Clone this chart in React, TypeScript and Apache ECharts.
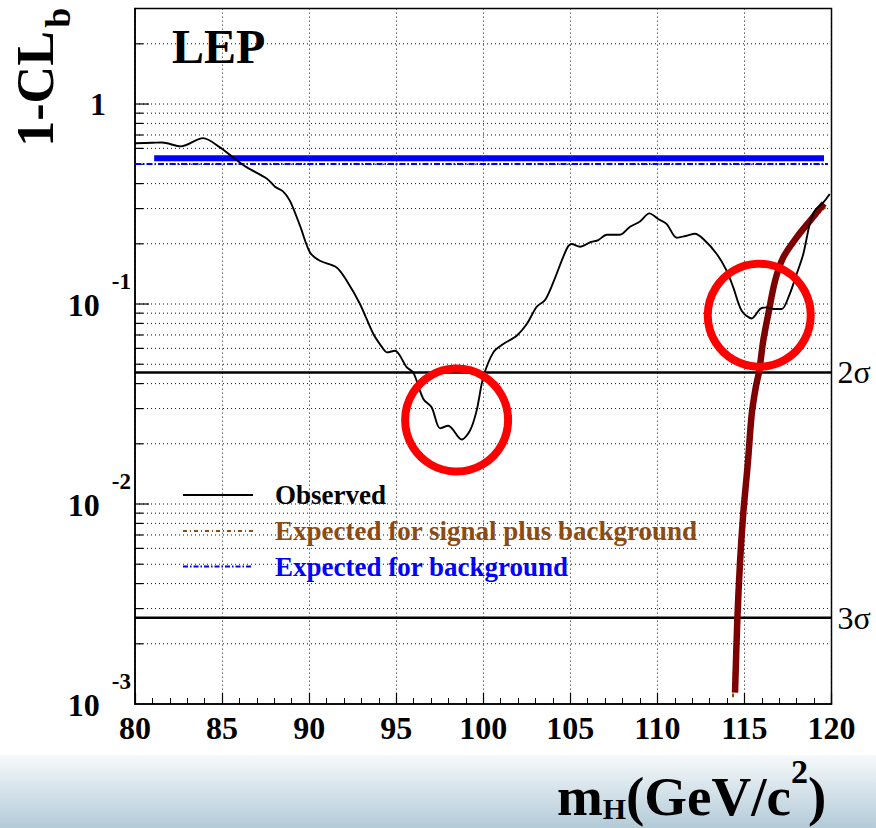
import React, { useEffect, useRef } from "react";
import * as echarts from "echarts";

const FONT = "'Liberation Serif', 'Times New Roman', Times, serif";

// Observed 1-CLb versus Higgs mass
const obsMass = [80.0, 81.0, 81.55, 82.64, 83.91, 84.88, 85.63, 86.43, 87.58, 88.04, 88.5, 88.9, 89.48, 90.05, 90.62, 91.58, 92.16, 92.92, 93.69, 94.26, 94.46, 94.93, 95.61, 95.98, 96.56, 97.04, 97.52, 97.99, 98.76, 99.24, 99.62, 100.0, 100.58, 101.15, 101.92, 102.5, 103.07, 103.55, 104.02, 104.79, 105.08, 105.56, 106.13, 106.61, 107.09, 107.85, 108.43, 109.0, 109.54, 110.05, 110.54, 111.11, 111.68, 112.16, 112.64, 113.41, 113.98, 114.36, 114.84, 115.42, 115.9, 116.28, 116.66, 117.14, 117.6, 118.0, 118.38, 118.75, 119.04, 119.53, 119.9];
const obsClb = [0.637, 0.64, 0.642, 0.614, 0.675, 0.607, 0.541, 0.482, 0.423, 0.386, 0.366, 0.328, 0.246, 0.181, 0.1646, 0.1524, 0.1307, 0.1, 0.0708, 0.0596, 0.0573, 0.0584, 0.0482, 0.0455, 0.0335, 0.0304, 0.0239, 0.0246, 0.021, 0.0233, 0.0293, 0.043, 0.0573, 0.0631, 0.0694, 0.0794, 0.0969, 0.1047, 0.1282, 0.1884, 0.1995, 0.1934, 0.2032, 0.2089, 0.222, 0.222, 0.2434, 0.2585, 0.2838, 0.266, 0.251, 0.2145, 0.2195, 0.2246, 0.2113, 0.1778, 0.1467, 0.121, 0.0926, 0.0847, 0.0944, 0.0962, 0.0944, 0.0944, 0.1122, 0.1413, 0.1778, 0.251, 0.2927, 0.322, 0.355];

// Signal + background (thick dark red)
const sbMass = [114.46, 114.59, 114.74, 114.93, 115.19, 115.42, 115.65, 115.85, 116.08, 116.37, 116.76, 117.23, 118.0, 118.77, 119.57];
const sbClb = [0.00114, 0.00261, 0.00501, 0.00891, 0.01585, 0.0282, 0.0383, 0.0464, 0.0655, 0.0891, 0.1307, 0.171, 0.2153, 0.261, 0.3184];

// Expected for signal plus background (brown dash-dot)
const sbExpMass = [114.34, 114.5, 114.67, 114.88, 115.15, 115.4, 115.63, 115.84, 116.07, 116.36, 116.75, 117.22, 117.99, 118.76, 119.6, 119.7];
const sbExpClb = [0.00108, 0.00261, 0.00501, 0.00891, 0.01585, 0.0282, 0.0383, 0.0464, 0.0655, 0.0891, 0.1307, 0.171, 0.2153, 0.255, 0.302, 0.305];

// Expected for background
const bkgBandMass = [81.1, 119.57];
const bkgBandClb = [0.536, 0.536];
const bkgExpMass = [80.0, 119.8];
const bkgExpClb = [0.501, 0.501];

// Significance levels
const sigmaMass = [80, 120];
const sigmaValues = [0.0455, 0.0027];
const sigmaLabels = ["2σ", "3σ"];

// Highlight circles
const circleMass = [98.47, 115.85];
const circleClb = [0.0263, 0.0879];

// Horizontal grid levels
const gridLevels = [0.002, 0.003, 0.004, 0.005, 0.006, 0.007, 0.008, 0.009, 0.01, 0.02, 0.03, 0.04, 0.05, 0.06, 0.07, 0.08, 0.09, 0.1, 0.2, 0.3, 0.4, 0.5, 0.6, 0.7, 0.8, 0.9, 1, 2];

const legendLabels = ["Observed", "Expected for signal plus background", "Expected for background"];
const legendColors = ["#000000", "#8b4c13", "#0000ff"];

const zip = (a: number[], b: number[]) => a.map((v, i) => [v, b[i]]);

export default function App() {
  const ref = useRef<HTMLDivElement>(null);
  useEffect(() => {
    if (!ref.current) return;
    const chart = echarts.init(ref.current, undefined, { renderer: "svg" });
    const legendY = [495, 531, 566.5];
    const legendDash: (number[] | null)[] = [null, [4, 3, 1, 3], [5, 2, 1.5, 2]];
    const graphic: any[] = [
      {
        type: "rect",
        z: -10,
        shape: { x: 0, y: 755, width: 876, height: 73 },
        style: {
          fill: new echarts.graphic.LinearGradient(0, 0, 0, 1, [
            { offset: 0, color: "#f6f9fb" },
            { offset: 1, color: "#b3cbd8" },
          ]),
        },
      },
      {
        type: "text",
        x: 172,
        y: 46.7,
        z: 20,
        style: { text: "LEP", fontFamily: FONT, fontWeight: "bold", fontSize: 48, fill: "#000", verticalAlign: "middle", align: "left" },
      },
      {
        type: "group",
        x: 35.5,
        y: 146.7,
        rotation: Math.PI / 2,
        z: 20,
        children: [
          { type: "text", x: 0, y: 0, style: { text: "1-CL", fontFamily: FONT, fontWeight: "bold", fontSize: 52, fill: "#000", verticalAlign: "middle", align: "left" } },
          { type: "text", x: 119, y: 22.5, style: { text: "b", fontFamily: FONT, fontWeight: "bold", fontSize: 36, fill: "#000", verticalAlign: "middle", align: "left" } },
        ],
      },
      { type: "text", x: 557, y: 796.4, z: 20, style: { text: "m", fontFamily: FONT, fontWeight: "bold", fontSize: 55, fill: "#000", verticalAlign: "middle", align: "left" } },
      { type: "text", x: 602.8, y: 808, z: 20, style: { text: "H", fontFamily: FONT, fontWeight: "bold", fontSize: 30, fill: "#000", verticalAlign: "middle", align: "left" } },
      { type: "text", x: 626, y: 796.4, z: 20, style: { text: "(GeV/c", fontFamily: FONT, fontWeight: "bold", fontSize: 55, fill: "#000", verticalAlign: "middle", align: "left" } },
      { type: "text", x: 791, y: 771.5, z: 20, style: { text: "2", fontFamily: FONT, fontWeight: "bold", fontSize: 34, fill: "#000", verticalAlign: "middle", align: "left" } },
      { type: "text", x: 808, y: 796.4, z: 20, style: { text: ")", fontFamily: FONT, fontWeight: "bold", fontSize: 55, fill: "#000", verticalAlign: "middle", align: "left" } },
    ];
    legendLabels.forEach((label, i) => {
      graphic.push({
        type: "line",
        z: 20,
        shape: { x1: 183, y1: legendY[i], x2: 253, y2: legendY[i] },
        style: { stroke: legendColors[i], lineWidth: 2, lineDash: legendDash[i] || undefined },
      });
      graphic.push({
        type: "text",
        x: 275,
        y: legendY[i],
        z: 20,
        style: { text: label, fontFamily: FONT, fontWeight: "bold", fontSize: 27, fill: legendColors[i], verticalAlign: "middle", align: "left" },
      });
    });

    const sigmaSeries = sigmaValues.map((v, i) => ({
      type: "line",
      name: sigmaLabels[i],
      z: 3,
      symbol: "none",
      silent: true,
      clip: false,
      data: sigmaMass.map((m) => [m, v]),
      lineStyle: { color: "#000", width: 2.5 },
      endLabel: { show: true, formatter: sigmaLabels[i], fontFamily: FONT, fontSize: 32, color: "#000", distance: 6 },
    }));

    const option: any = {
      animation: false,
      backgroundColor: "#ffffff",
      grid: { left: 135, top: 8.6, width: 696.5, height: 695.4, show: true, borderColor: "#000", borderWidth: 1.5, backgroundColor: "transparent", containLabel: false, outerBoundsMode: "none" },
      xAxis: {
        type: "value",
        min: 80,
        max: 120,
        interval: 5,
        axisLine: { show: true, onZero: false, lineStyle: { color: "#000", width: 1.5 } },
        axisTick: { show: true, inside: true, length: 11, lineStyle: { color: "#000", width: 1.2 } },
        minorTick: { show: true, splitNumber: 5, length: 6, lineStyle: { color: "#000", width: 1 } },
        splitLine: { show: true, lineStyle: { color: "#111", width: 1, type: [1, 3] } },
        axisLabel: { fontFamily: FONT, fontWeight: "bold", fontSize: 32, color: "#000", margin: 8 },
      },
      yAxis: {
        type: "log",
        logBase: 10,
        min: 0.001,
        max: 3,
        axisLine: { show: true, lineStyle: { color: "#000", width: 1.5 } },
        axisTick: { show: false },
        splitLine: { show: false },
        minorTick: { show: false },
        minorSplitLine: { show: false },
        axisLabel: {
          margin: 4,
          showMinLabel: true,
          showMaxLabel: true,
          formatter: (v: number) => {
            const lg = Math.log10(v);
            const e = Math.round(lg);
            if (Math.abs(lg - e) > 1e-6) return "";
            if (e === 0) return "{one|1}";
            return "{b|10}{e|" + e + "}";
          },
          rich: {
            one: { fontFamily: FONT, fontWeight: "bold", fontSize: 32, color: "#000", padding: [0, 25, 0, 0] },
            b: { fontFamily: FONT, fontWeight: "bold", fontSize: 32, color: "#000", verticalAlign: "bottom", padding: [0, 0, 18, 0] },
            e: { fontFamily: FONT, fontWeight: "bold", fontSize: 23, color: "#000", verticalAlign: "top", padding: [0, 0, 46, 12] },
          },
        },
      },
      series: [
        {
          type: "custom",
          silent: true,
          z: 1,
          clip: false,
          data: gridLevels.map((v) => [80, v]),
          renderItem: (params: any, api: any) => {
            const v = api.value(1);
            const a = api.coord([80, v]);
            const b = api.coord([120, v]);
            const lg = Math.log10(v);
            const major = Math.abs(lg - Math.round(lg)) < 1e-6;
            return {
              type: "group",
              children: [
                { type: "line", shape: { x1: a[0], y1: a[1], x2: b[0], y2: b[1] }, style: { stroke: "#111", lineWidth: 1, lineDash: [1, 3] } },
                { type: "line", shape: { x1: a[0], y1: a[1], x2: a[0] + (major ? 14 : 8), y2: a[1] }, style: { stroke: "#000", lineWidth: 1.2 } },
              ],
            };
          },
        },
        {
          type: "line",
          name: "bkgBand",
          z: 2,
          symbol: "none",
          data: zip(bkgBandMass, bkgBandClb),
          lineStyle: { color: "#0000ff", width: 6 },
        },
        {
          type: "line",
          name: "bkgExp",
          z: 2,
          symbol: "none",
          data: zip(bkgExpMass, bkgExpClb),
          lineStyle: { color: "#0000ff", width: 2, type: [6, 2, 1.5, 2] },
        },
        ...sigmaSeries,
        {
          type: "line",
          name: "sbExp",
          z: 3,
          symbol: "none",
          smooth: 0.3,
          data: zip(sbExpMass, sbExpClb),
          lineStyle: { color: "#8b4c13", width: 2, type: [4, 3, 1, 3] },
        },
        {
          type: "line",
          name: "sb",
          z: 4,
          symbol: "none",
          smooth: 0.3,
          data: zip(sbMass, sbClb),
          lineStyle: { color: "#7f0000", width: 6.5 },
        },
        {
          type: "line",
          name: "Observed",
          z: 5,
          symbol: "none",
          smooth: 0.3,
          data: zip(obsMass, obsClb),
          lineStyle: { color: "#000", width: 1.9 },
        },
        {
          type: "scatter",
          z: 10,
          silent: true,
          symbol: "circle",
          symbolSize: 103,
          data: zip(circleMass, circleClb),
          itemStyle: { color: "rgba(0,0,0,0)", borderColor: "#ff0000", borderWidth: 8, opacity: 1 },
        },
      ],
      graphic,
    };
    chart.setOption(option);
    return () => chart.dispose();
  }, []);
  return <div ref={ref} style={{ position: "fixed", left: 0, top: 0, width: 876, height: 828, background: "#fff" }} />;
}
